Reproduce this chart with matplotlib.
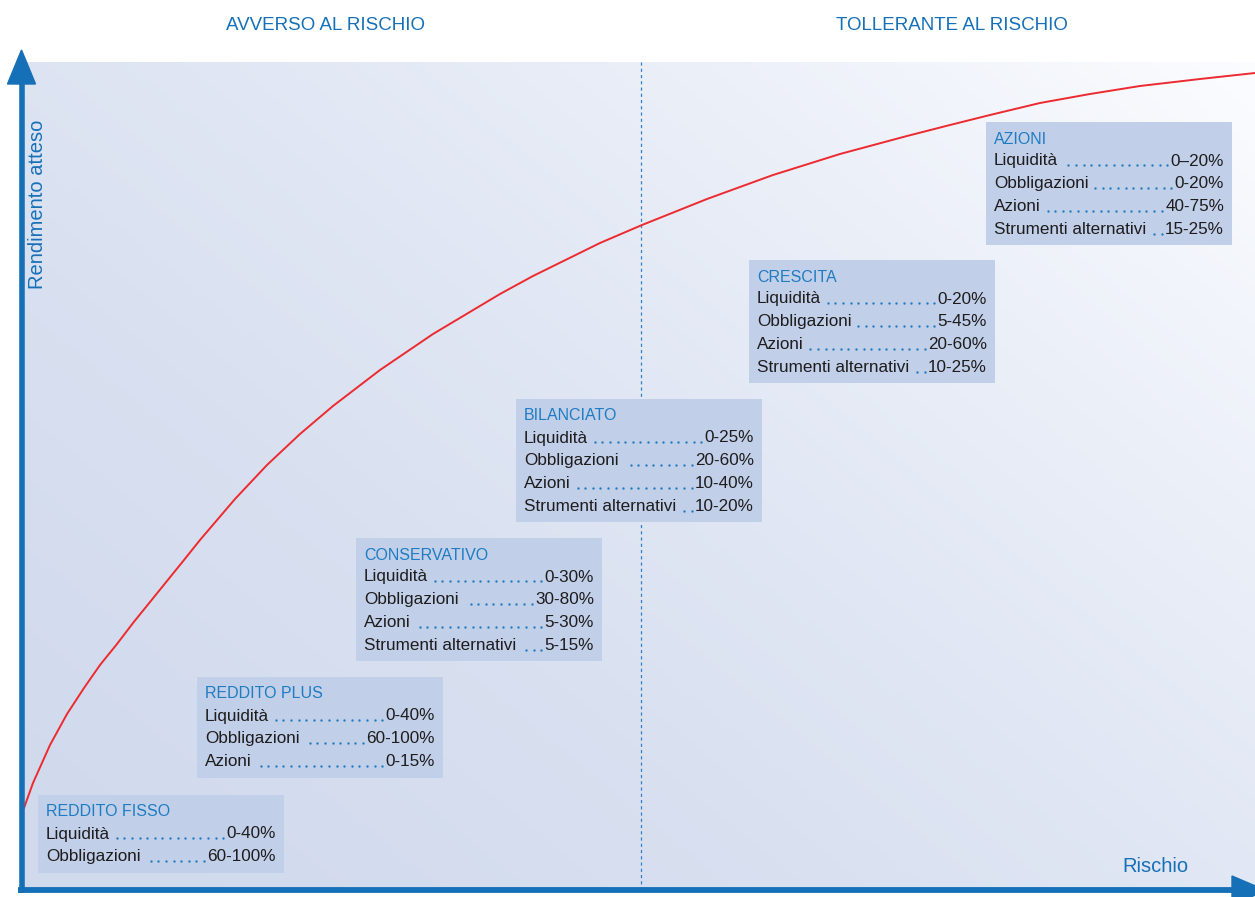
import numpy as np
import matplotlib
matplotlib.use('Agg')
import matplotlib.pyplot as plt
from matplotlib.patches import Rectangle, Polygon

plt.rcParams['font.family'] = ['Liberation Sans', 'DejaVu Sans']

# Risk/return curve (pixel space of the drawing)
risk = [24, 33, 50, 67, 84, 100, 117, 133, 150, 167, 184, 200, 235, 267, 300, 333, 380,
        433, 500, 533, 600, 642, 707, 773, 840, 907, 950, 990, 1040, 1090, 1140, 1200, 1255]
ret = [808, 783, 745, 714, 688, 665, 644, 623, 602, 581, 560, 540, 499, 465, 434, 406, 370,
       334, 294, 276, 243, 225, 199, 175, 154, 136, 125, 115, 103, 94, 86, 79, 73]

# Portfolio profiles and their allocation ranges
profiles = ['AZIONI', 'CRESCITA', 'BILANCIATO', 'CONSERVATIVO', 'REDDITO PLUS', 'REDDITO FISSO']
asset_labels = ['Liquidità', 'Obbligazioni', 'Azioni', 'Strumenti alternativi']
liquidita = ['0–20%', '0-20%', '0-25%', '0-30%', '0-40%', '0-40%']
obbligazioni = ['0-20%', '5-45%', '20-60%', '30-80%', '60-100%', '60-100%']
azioni = ['40-75%', '20-60%', '10-40%', '5-30%', '0-15%', None]
alternativi = ['15-25%', '10-25%', '10-20%', '5-15%', None, None]

zone_labels = ['AVVERSO AL RISCHIO', 'TOLLERANTE AL RISCHIO']

# layout
box_left = [986, 749, 516, 356, 197, 38]
box_top = [122, 260, 399, 538, 677, 795]
box_w = 246
row_h = 22.8

blue = '#1670b8'
title_blue = '#1f7cc3'
red = '#ec2a2f'
box_col = '#c1cfe8'
text_col = '#1e1c1d'

W, H = 1255, 897
fig = plt.figure(figsize=(W / 100, H / 100), dpi=100)
ax = fig.add_axes([0, 0, 1, 1])
ax.set_xlim(0, W)
ax.set_ylim(H, 0)
ax.axis('off')

# gradient panel
x0, x1, y0, y1 = 21, W, 62, 890
gx = np.linspace(0, 1, 300)
gy = np.linspace(1, 0, 200)
GX, GY = np.meshgrid(gx, gy)
t = np.clip((GX * 0.55 + GY * 0.45), 0, 1) ** 1.6
c0 = np.array([0.82, 0.855, 0.93])
c1 = np.array([0.985, 0.99, 1.0])
img = c0[None, None, :] * (1 - t[..., None]) + c1[None, None, :] * t[..., None]
ax.imshow(img, extent=[x0, x1, y1, y0], aspect='auto', zorder=0, interpolation='bilinear')

# divider
ax.plot([641, 641], [y0, y1], color='#2f80c4', lw=0.9, ls=(0, (2.5, 2.5)), zorder=1)

# curve
ax.plot(risk, ret, color=red, lw=1.4, zorder=2, solid_joinstyle='round')

# axes with arrows
ax.plot([21.5, 21.5], [80, 893], color=blue, lw=4.0, solid_capstyle='butt', zorder=5)
ax.add_patch(Polygon([[21.5, 50], [7.5, 84], [35.5, 84]], closed=True, color=blue, zorder=5))
ax.plot([18, 1236], [890.5, 890.5], color=blue, lw=4.2, solid_capstyle='butt', zorder=5)
ax.add_patch(Polygon([[1266, 890.5], [1232, 876], [1232, 905]], closed=True, color=blue, zorder=5))

ax.text(326, 25, zone_labels[0], color=blue, fontsize=13.5, ha='center', va='center')
ax.text(952, 25, zone_labels[1], color=blue, fontsize=13.5, ha='center', va='center')
ax.text(38, 204, 'Rendimento atteso', color=blue, fontsize=14.5, rotation=90,
        ha='center', va='center')
ax.text(1155, 866, 'Rischio', color=blue, fontsize=14.5, ha='center', va='center')

# boxes
pairs = []
for i, name in enumerate(profiles):
    values = [liquidita[i], obbligazioni[i], azioni[i], alternativi[i]]
    rows = [(lab, v) for lab, v in zip(asset_labels, values) if v is not None]
    left, top = box_left[i], box_top[i]
    bottom = top + 38 + row_h * (len(rows) - 1) + 17
    ax.add_patch(Rectangle((left, top), box_w, bottom - top, facecolor=box_col,
                           edgecolor='none', zorder=3))
    ax.text(left + 8, top + 17, name, color=title_blue, fontsize=11.5,
            ha='left', va='center', zorder=4)
    for k, (lab, v) in enumerate(rows):
        yy = top + 39 + row_h * k
        tl = ax.text(left + 8, yy, lab, color=text_col, fontsize=12.3,
                     ha='left', va='center', zorder=4)
        tv = ax.text(left + box_w - 8, yy, v, color=text_col, fontsize=12.3,
                     ha='right', va='center', zorder=4)
        pairs.append((tl, tv, yy))

# dot leaders between label and value
fig.canvas.draw()
renderer = fig.canvas.get_renderer()
inv = ax.transData.inverted()
for tl, tv, yy in pairs:
    lx = inv.transform(tl.get_window_extent(renderer).get_points())[1][0]
    vx = inv.transform(tv.get_window_extent(renderer).get_points())[0][0]
    xs = []
    x = vx - 3.5
    while x > lx + 5:
        xs.append(x)
        x -= 7.6
    if xs:
        ax.plot(xs, [yy + 4.5] * len(xs), 'o', ms=1.7, color=title_blue, mec='none', zorder=4)

fig.savefig('out.png', dpi=100)
